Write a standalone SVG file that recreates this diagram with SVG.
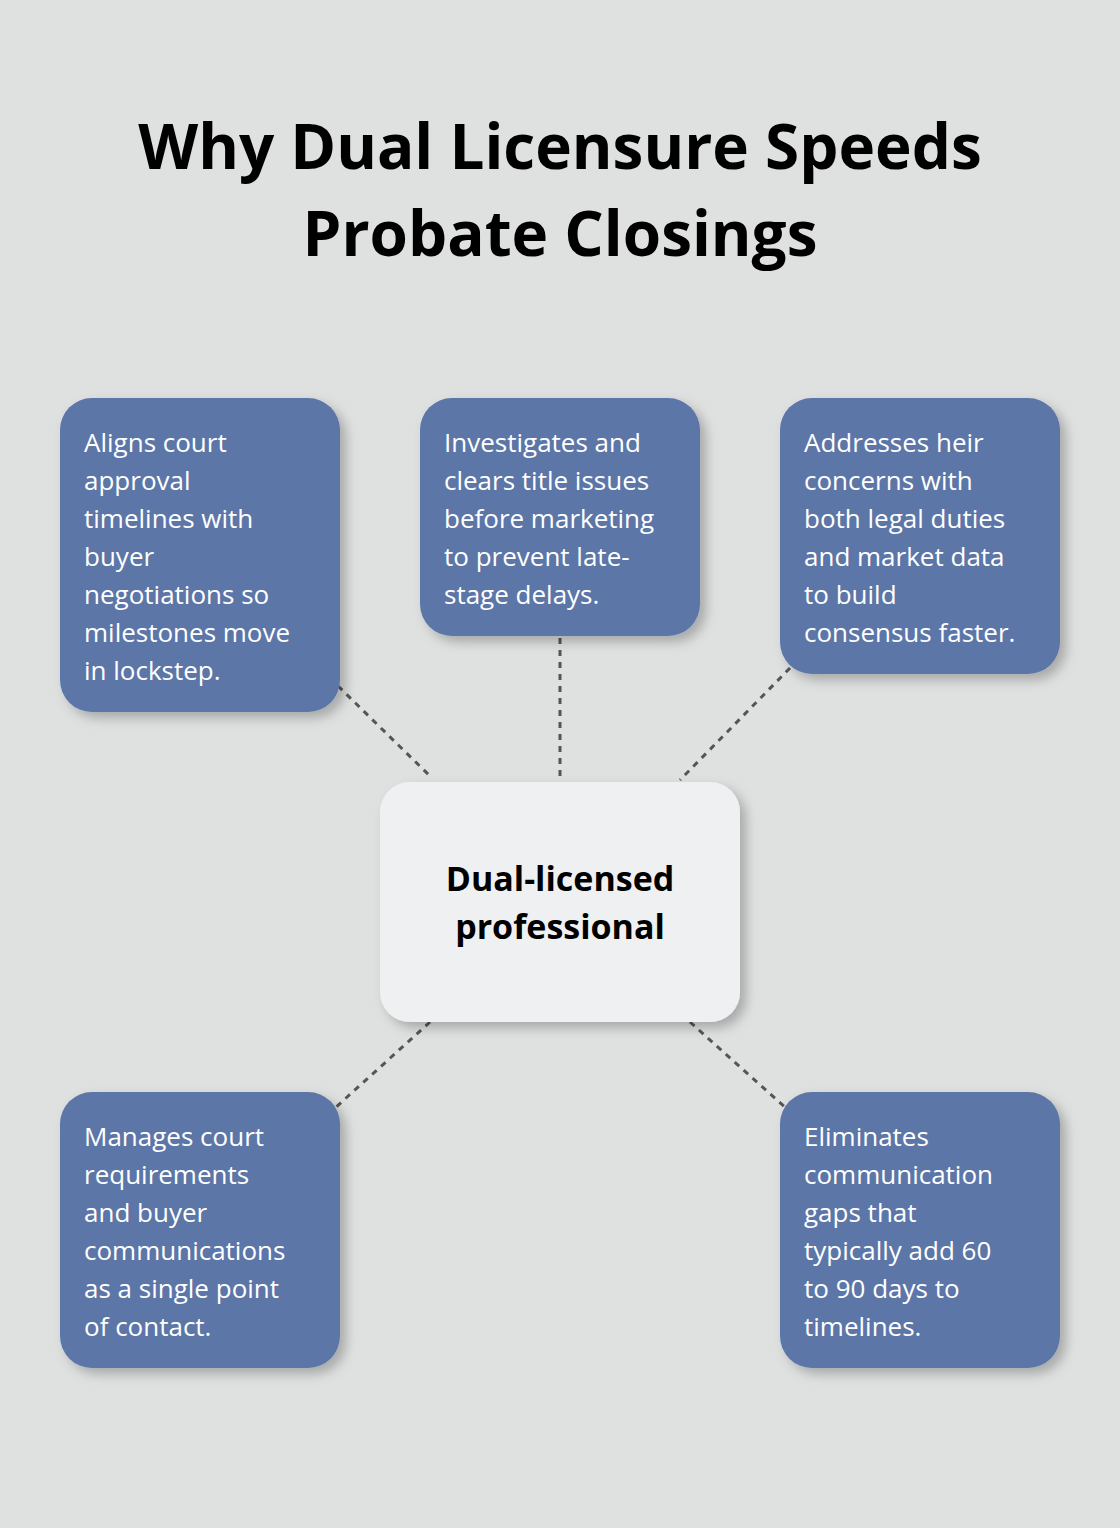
<svg xmlns="http://www.w3.org/2000/svg" width="1120" height="1528" viewBox="0 0 1120 1528">
<defs>
<filter id="sh" x="-20%" y="-20%" width="150%" height="150%"><feDropShadow dx="6" dy="6" stdDeviation="6" flood-color="#000" flood-opacity="0.25"/></filter>
<style>
.t{font-family:"Open Sans","Liberation Sans",sans-serif;font-size:26px;fill:#fff}
.b{fill:#5b76a8;filter:url(#sh)}
.c{stroke:#555;stroke-width:3;stroke-dasharray:6 6;fill:none}
</style>
</defs>
<rect width="1120" height="1528" fill="#dfe1e0"/>
<g id="title" font-family="Open Sans,Liberation Sans,sans-serif" font-weight="bold" font-size="62" text-anchor="middle" fill="#000">
<text x="560" y="169">Why Dual Licensure Speeds</text>
<text x="560" y="256">Probate Closings</text>
</g>
<g id="connectors">
<line class="c" x1="338" y1="686" x2="432" y2="778"/>
<line class="c" x1="560" y1="638" x2="560" y2="776"/>
<line class="c" x1="790" y1="668" x2="680" y2="780"/>
<line class="c" x1="430" y1="1022" x2="335" y2="1108"/>
<line class="c" x1="690" y1="1022" x2="786" y2="1108"/>
</g>
<g id="n1"><rect class="b" x="60" y="398" width="280" height="314" rx="32"/>
<text class="t" x="84" y="452">Aligns court</text><text class="t" x="84" y="490">approval</text><text class="t" x="84" y="528">timelines with</text><text class="t" x="84" y="566">buyer</text><text class="t" x="84" y="604">negotiations so</text><text class="t" x="84" y="642">milestones move</text><text class="t" x="84" y="680">in lockstep.</text></g>
<g id="n2"><rect class="b" x="420" y="398" width="280" height="238" rx="32"/>
<text class="t" x="444" y="452">Investigates and</text><text class="t" x="444" y="490">clears title issues</text><text class="t" x="444" y="528">before marketing</text><text class="t" x="444" y="566">to prevent late-</text><text class="t" x="444" y="604">stage delays.</text></g>
<g id="n3"><rect class="b" x="780" y="398" width="280" height="276" rx="32"/>
<text class="t" x="804" y="452">Addresses heir</text><text class="t" x="804" y="490">concerns with</text><text class="t" x="804" y="528">both legal duties</text><text class="t" x="804" y="566">and market data</text><text class="t" x="804" y="604">to build</text><text class="t" x="804" y="642">consensus faster.</text></g>
<g id="center"><rect x="380" y="782" width="360" height="240" rx="30" fill="#eff0f2" filter="url(#sh)"/>
<text x="560" y="891" text-anchor="middle" font-family="Open Sans,Liberation Sans,sans-serif" font-weight="bold" font-size="34">Dual-licensed</text>
<text x="560" y="939" text-anchor="middle" font-family="Open Sans,Liberation Sans,sans-serif" font-weight="bold" font-size="34">professional</text></g>
<g id="n4"><rect class="b" x="60" y="1092" width="280" height="276" rx="32"/>
<text class="t" x="84" y="1146">Manages court</text><text class="t" x="84" y="1184">requirements</text><text class="t" x="84" y="1222">and buyer</text><text class="t" x="84" y="1260">communications</text><text class="t" x="84" y="1298">as a single point</text><text class="t" x="84" y="1336">of contact.</text></g>
<g id="n5"><rect class="b" x="780" y="1092" width="280" height="276" rx="32"/>
<text class="t" x="804" y="1146">Eliminates</text><text class="t" x="804" y="1184">communication</text><text class="t" x="804" y="1222">gaps that</text><text class="t" x="804" y="1260">typically add 60</text><text class="t" x="804" y="1298">to 90 days to</text><text class="t" x="804" y="1336">timelines.</text></g>
</svg>
